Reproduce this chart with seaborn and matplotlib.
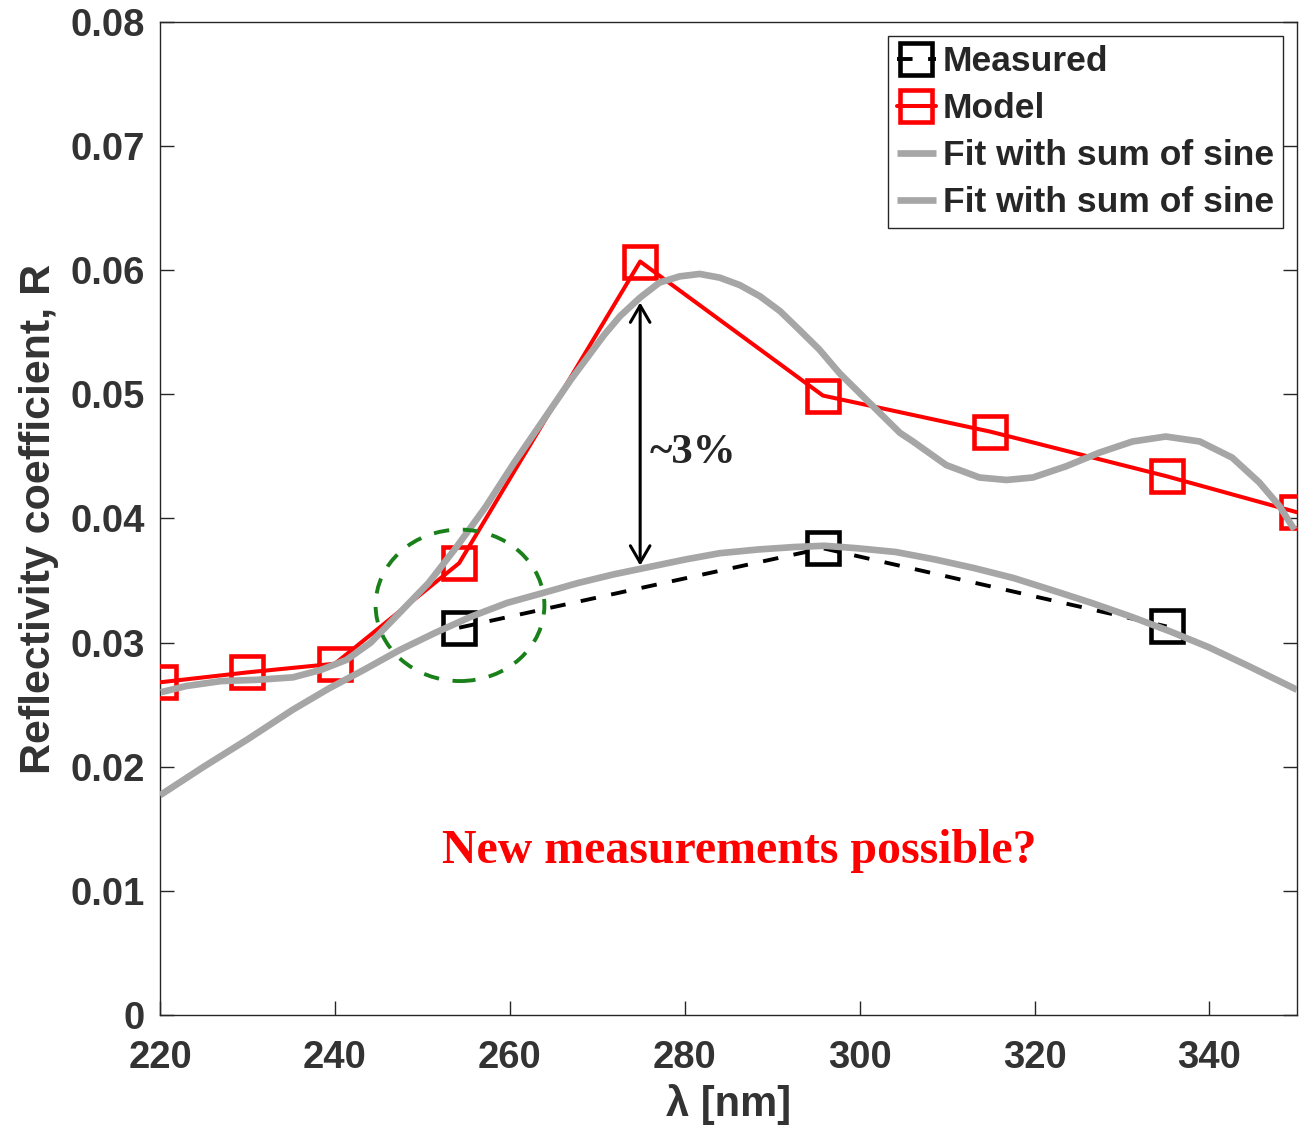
import numpy as np
import matplotlib
matplotlib.use("Agg")
import matplotlib.pyplot as plt
from matplotlib.patches import Ellipse
import seaborn as sns

# measured points and model points
meas_wl = [254.2, 295.8, 335.1]
meas_r = [0.0312, 0.0376, 0.0313]

model_wl = [220, 230, 240, 254.2, 274.9, 295.8, 314.9, 335.1, 350]
model_r = [0.0268, 0.0276, 0.0283, 0.0364, 0.0607, 0.0499, 0.0470, 0.0434, 0.0405]

# sum-of-sine fit through the model points
fit_model_wl = [220.1, 223.0, 227.0, 231.1, 235.2, 238.4, 241.3, 244.1, 247.4, 250.7,
                253.9, 257.2, 260.5, 263.8, 267.0, 269.0, 270.8, 272.6, 274.9, 277.1,
                279.4, 281.7, 284.0, 286.3, 288.6, 290.9, 293.1, 295.4, 297.7, 300.0,
                302.3, 304.6, 306.1, 309.9, 313.7, 316.8, 319.8, 323.6, 327.4, 331.2,
                335.0, 338.9, 342.6, 345.7, 348.0, 349.7]
fit_model_r = [0.0260, 0.0265, 0.0269, 0.0270, 0.0272, 0.0278, 0.0286, 0.0300, 0.0324, 0.0348,
               0.0377, 0.0409, 0.0445, 0.0479, 0.0512, 0.0531, 0.0548, 0.0563, 0.0578, 0.0590,
               0.0595, 0.0597, 0.0594, 0.0588, 0.0579, 0.0567, 0.0552, 0.0536, 0.0517, 0.0501,
               0.0485, 0.0469, 0.0462, 0.0443, 0.0433, 0.0431, 0.0433, 0.0442, 0.0453, 0.0462,
               0.0466, 0.0462, 0.0449, 0.0429, 0.0410, 0.0391]

# sum-of-sine fit through the measured points
fit_meas_wl = [220.0, 225.0, 230.0, 235.2, 239.3, 243.3, 247.4, 251.5, 255.6, 259.7,
               263.8, 267.8, 271.9, 276.0, 280.1, 284.0, 288.4, 292.6, 296.0, 299.7,
               304.1, 308.6, 313.1, 317.6, 322.1, 326.5, 331.0, 335.5, 340.0, 344.5, 350.0]
fit_meas_r = [0.0177, 0.0200, 0.0222, 0.0246, 0.0263, 0.0278, 0.0294, 0.0308, 0.0321, 0.0332,
              0.0340, 0.0348, 0.0355, 0.0361, 0.0367, 0.0372, 0.0375, 0.0377, 0.0378, 0.0376,
              0.0373, 0.0367, 0.0360, 0.0352, 0.0342, 0.0332, 0.0321, 0.0309, 0.0296, 0.0281, 0.0262]

x_ticks = [220, 240, 260, 280, 300, 320, 340]
y_ticks = [0, 0.01, 0.02, 0.03, 0.04, 0.05, 0.06, 0.07, 0.08]
y_tick_labels = ["0", "0.01", "0.02", "0.03", "0.04", "0.05", "0.06", "0.07", "0.08"]

sns.set_theme(style="white")
plt.rcParams['font.family'] = ['Liberation Sans', 'DejaVu Sans']

fig = plt.figure(figsize=(13.14, 11.32), dpi=100)
ax = fig.add_axes([0.1218, 0.1034, 0.8652, 0.8772])

grey = '#a6a6a6'
sns.lineplot(x=meas_wl, y=meas_r, ax=ax, sort=False, color='black', lw=2.8,
             linestyle=(0, (4, 4)), marker='s', markersize=23.5, markerfacecolor='none',
             markeredgecolor='black', markeredgewidth=3.3, label='Measured', zorder=2)
sns.lineplot(x=model_wl, y=model_r, ax=ax, sort=False, color='red', lw=2.9,
             marker='s', markersize=23.5, markerfacecolor='none',
             markeredgecolor='red', markeredgewidth=3.3, label='Model', zorder=3)
sns.lineplot(x=fit_model_wl, y=fit_model_r, ax=ax, sort=False, color=grey, lw=4.8,
             solid_joinstyle='round', solid_capstyle='butt',
             label='Fit with sum of sine', zorder=4)
sns.lineplot(x=fit_meas_wl, y=fit_meas_r, ax=ax, sort=False, color=grey, lw=4.8,
             solid_joinstyle='round', solid_capstyle='butt',
             label='Fit with sum of sine', zorder=4)

# dashed green circle around the 254 nm point
ax.add_patch(Ellipse((254.3, 0.0330), width=19.3, height=0.0122, fill=False,
                     edgecolor='#1a801a', lw=2.8, linestyle=(0, (4, 3.5)), zorder=5))

# double arrow showing the gap
ax.annotate('', xy=(274.9, 0.0574), xytext=(274.9, 0.0362),
            arrowprops=dict(arrowstyle='<->,head_length=0.55,head_width=0.32',
                            mutation_scale=22, color='black', lw=2.2,
                            shrinkA=0, shrinkB=0), zorder=6)
ax.text(276.0, 0.0453, '~3%', fontsize=31, fontweight='bold',
        family=['Liberation Serif', 'DejaVu Serif'], ha='left', va='center')
ax.text(286.2, 0.0132, 'New measurements possible?', fontsize=34.5, fontweight='bold',
        family=['Liberation Serif', 'DejaVu Serif'], color='red', ha='center', va='center')

ax.set_xlim(220, 350)
ax.set_ylim(0, 0.08)
ax.set_xticks(x_ticks)
ax.set_yticks(y_ticks)
ax.set_yticklabels(y_tick_labels)
ax.tick_params(direction='in', length=10, width=1, colors='#262626', labelsize=27.5,
               top=False, right=True, left=True, bottom=True)
ax.tick_params(axis='x', pad=18)
ax.tick_params(axis='y', pad=11)
for lab in ax.get_xticklabels() + ax.get_yticklabels():
    lab.set_fontweight('bold')
    lab.set_color('#333333')
for sp in ax.spines.values():
    sp.set_color('#262626')
    sp.set_linewidth(1)

ax.set_xlabel('λ [nm]', fontsize=30, fontweight='bold', color='#333333', labelpad=6)
ax.set_ylabel('Reflectivity coefficient, R', fontsize=31, fontweight='bold',
              color='#333333', labelpad=8)

leg = ax.legend(loc='upper right', fontsize=25.5, frameon=True, fancybox=False,
                handlelength=1.1, handletextpad=0.2, borderpad=0.25, labelspacing=0.4,
                borderaxespad=0.4, edgecolor='#262626', framealpha=1)
for t in leg.get_texts():
    t.set_fontweight('bold')
leg.get_frame().set_linewidth(1)

fig.savefig('out.png', dpi=100)
